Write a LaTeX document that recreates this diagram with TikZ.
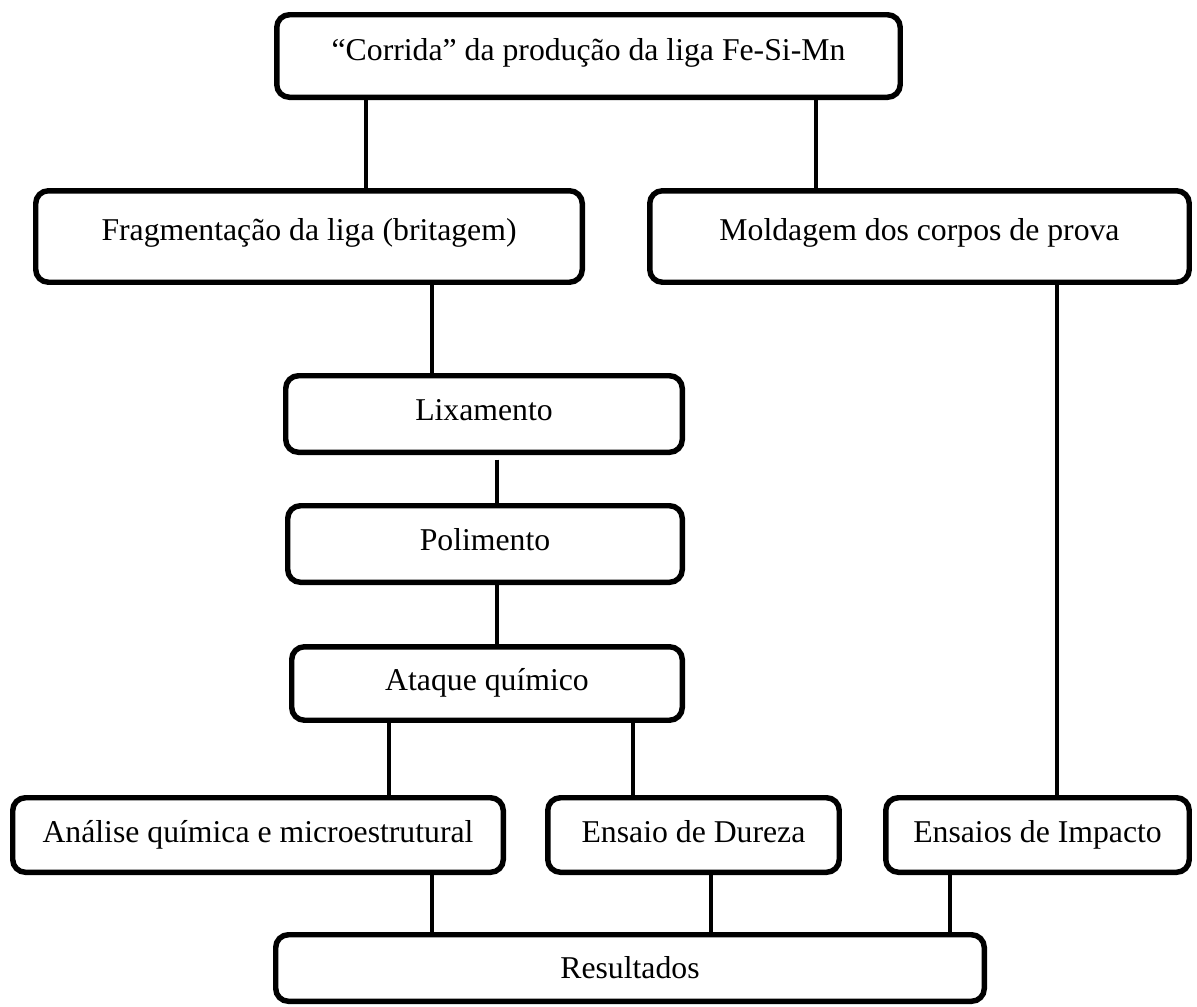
\documentclass[tikz,border=0pt]{standalone}
\usepackage{fontspec}
\setmainfont{Liberation Serif}
\begin{document}
\begin{tikzpicture}[x=0.75pt,y=-0.75pt,
  box/.style={draw, line width=4.1pt, rounded corners=9.5pt, inner sep=0pt, fill=white},
  lbl/.style={anchor=base, inner sep=0pt, font=\fontsize{23.8}{28}\selectfont},
  conn/.style={line width=2.5pt}]
\useasboundingbox (0,0) rectangle (1197,1007);
\fill[white] (0,0) rectangle (1197,1007);
% columns for connectors
\coordinate (c366) at (366,0);
\coordinate (c816) at (816,0);
\coordinate (c432) at (432,0);
\coordinate (c497) at (497,0);
\coordinate (c389) at (389,0);
\coordinate (c633) at (633,0);
\coordinate (c1057) at (1057,0);
\coordinate (c711) at (711,0);
\coordinate (c950) at (950,0);
% boxes
\node[box, minimum width=467.6pt, minimum height=61.9pt] (top) at (588.5,56) {};
\node[box, minimum width=409.9pt, minimum height=68.6pt] (frag) at (309,236.5) {};
\node[box, minimum width=404.6pt, minimum height=68.6pt] (mold) at (919.5,236.5) {};
\node[box, minimum width=297.4pt, minimum height=57.4pt] (lix) at (484,414) {};
\node[box, minimum width=295.9pt, minimum height=57.4pt] (pol) at (485,544) {};
\node[box, minimum width=292.9pt, minimum height=55.1pt] (ata) at (487,683.5) {};
\node[box, minimum width=367.9pt, minimum height=55.9pt] (ana) at (258,835) {};
\node[box, minimum width=218.6pt, minimum height=55.9pt] (dur) at (693.5,835) {};
\node[box, minimum width=227.6pt, minimum height=55.9pt] (imp) at (1037.5,835) {};
\node[box, minimum width=531.4pt, minimum height=49.9pt] (res) at (630,968) {};
% connectors
\draw[conn] (top.south -| c366) -- (frag.north -| c366);
\draw[conn] (top.south -| c816) -- (mold.north -| c816);
\draw[conn] (frag.south -| c432) -- (lix.north -| c432);
\draw[conn, shorten <=3.5pt] (lix.south -| c497) -- (pol.north -| c497);
\draw[conn] (pol.south -| c497) -- (ata.north -| c497);
\draw[conn] (ata.south -| c389) -- (ana.north -| c389);
\draw[conn] (ata.south -| c633) -- (dur.north -| c633);
\draw[conn] (mold.south -| c1057) -- (imp.north -| c1057);
\draw[conn] (ana.south -| c432) -- (res.north -| c432);
\draw[conn] (dur.south -| c711) -- (res.north -| c711);
\draw[conn] (imp.south -| c950) -- (res.north -| c950);
% labels
\node[lbl] (ttop) at (588.5,60) {“Corrida” da produção da liga Fe-Si-Mn};
\node[lbl] (tfrag) at (309,240) {Fragmentação da liga (britagem)};
\node[lbl] (tmold) at (919.5,240) {Moldagem dos corpos de prova};
\node[lbl] (tlix) at (484,420) {Lixamento};
\node[lbl] (tpol) at (485,550) {Polimento};
\node[lbl] (tata) at (487,690) {Ataque químico};
\node[lbl] (tana) at (258,842) {Análise química e microestrutural};
\node[lbl] (tdur) at (693.5,842) {Ensaio de Dureza};
\node[lbl] (timp) at (1037.5,842) {Ensaios de Impacto};
\node[lbl] (tres) at (630,978) {Resultados};
\end{tikzpicture}
\end{document}
